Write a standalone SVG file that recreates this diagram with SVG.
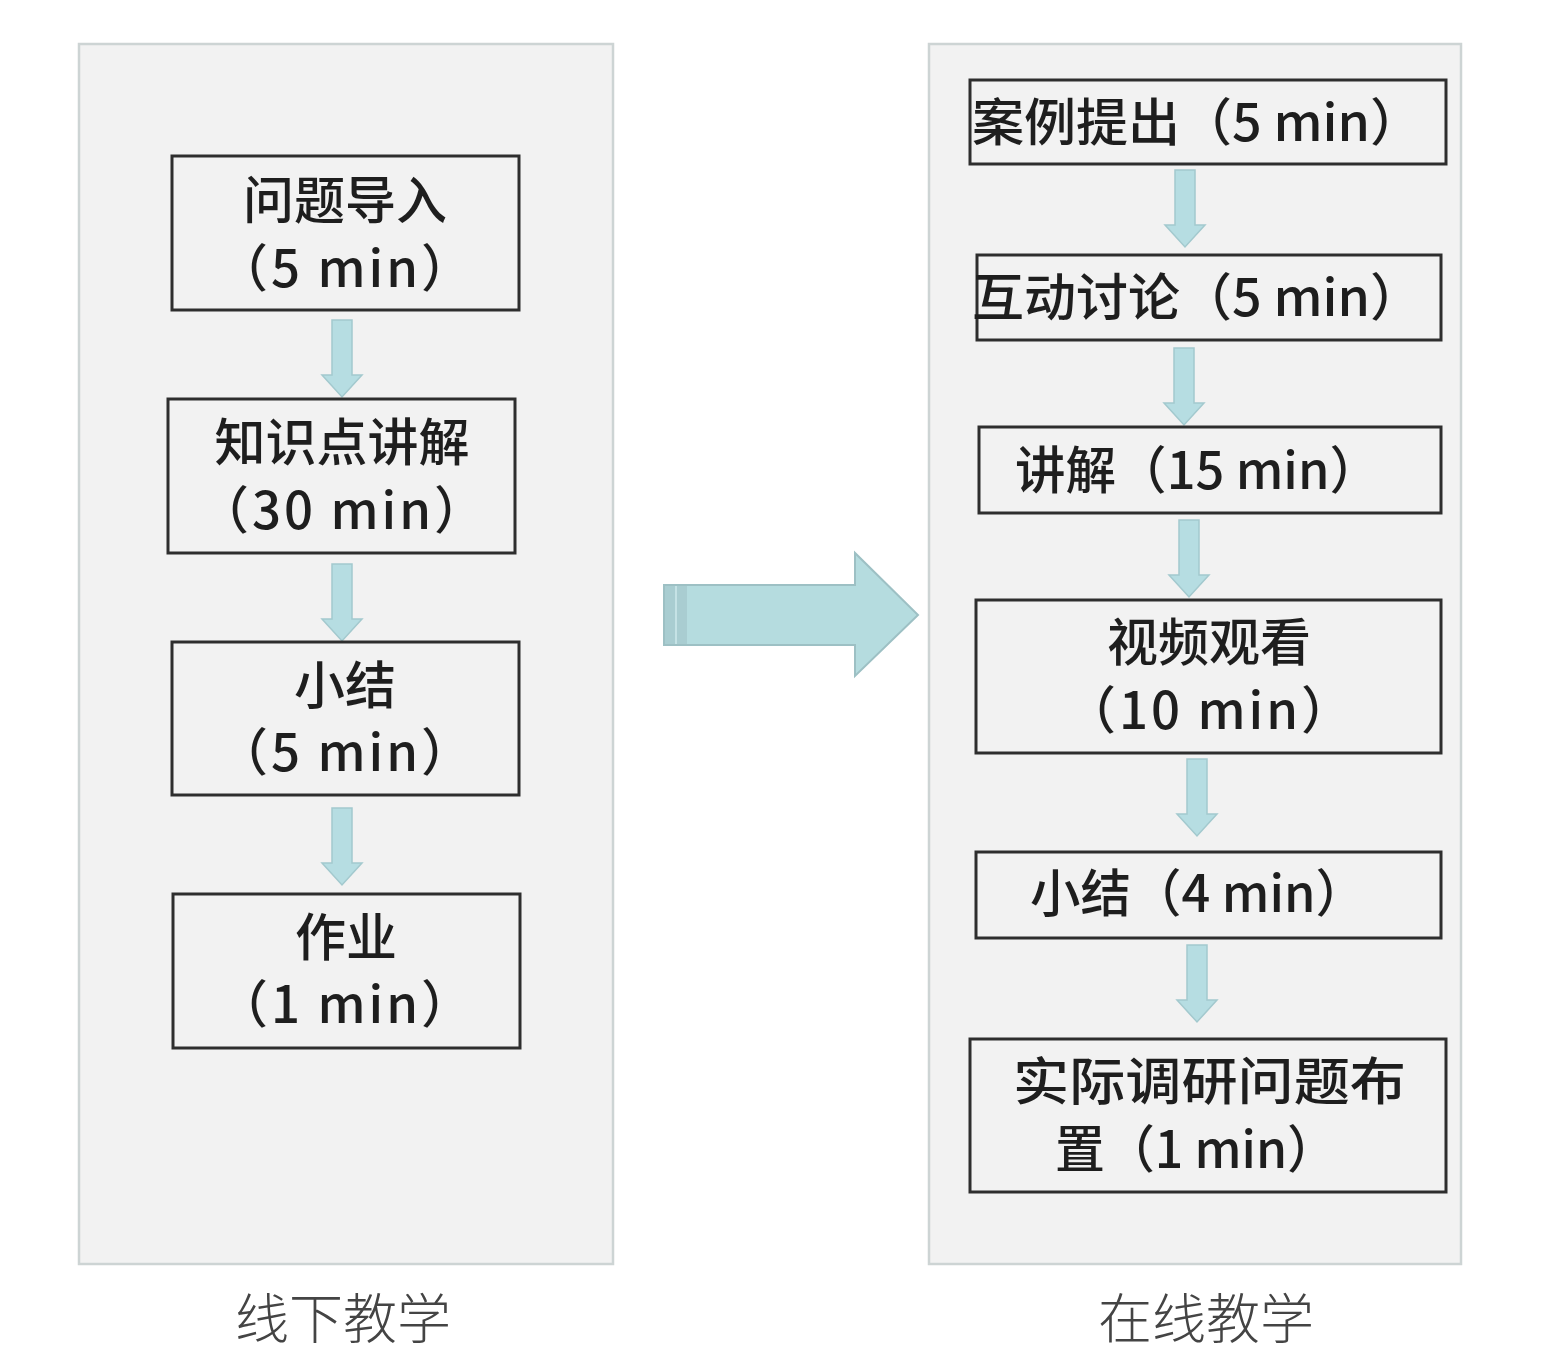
<svg xmlns="http://www.w3.org/2000/svg" width="1541" height="1353" viewBox="0 0 1541 1353">
<style>
.panel{fill:#f2f2f2;stroke:#cdd4d4;stroke-width:2.5}
.box{fill:#f2f2f2;stroke:#2e2e2e;stroke-width:3}
.t{font-family:"Noto Sans CJK SC","Noto Sans",sans-serif;font-size:51px;font-weight:500;fill:#1e1e1e}
.p{letter-spacing:3px}
.cap{font-family:"Noto Sans CJK SC","Noto Sans",sans-serif;font-size:54px;font-weight:300;fill:#444}
.arr{fill:#b6dde2;stroke:#a3c9ce;stroke-width:1.5}
.big{fill:#b5dcdf;stroke:#9dc0c4;stroke-width:2}
</style>
<defs>
<path id="dn" d="M-10,0 H10 V55 H20 L0,77 L-20,55 H-10 Z"/>
</defs>
<rect width="1541" height="1353" fill="#ffffff"/>
<g id="panel-left"><rect class="panel" x="79" y="44" width="534" height="1220"/></g>
<g id="panel-right"><rect class="panel" x="929" y="44" width="532" height="1220"/></g>

<g id="connectors">
<use href="#dn" class="arr" x="342" y="320"/>
<use href="#dn" class="arr" x="342" y="564"/>
<use href="#dn" class="arr" x="342" y="808"/>
<use href="#dn" class="arr" x="1185" y="170"/>
<use href="#dn" class="arr" x="1184" y="348"/>
<use href="#dn" class="arr" x="1189" y="520"/>
<use href="#dn" class="arr" x="1197" y="759"/>
<use href="#dn" class="arr" x="1197" y="945"/>
<g id="big-arrow">
<polygon class="big" points="664,585 855,585 855,553 918,615 855,676 855,645 664,645"/>
<rect x="665" y="586" width="22" height="58" fill="#a9cdd1"/>
<line x1="676" y1="586" x2="676" y2="644" stroke="#c5e2e5" stroke-width="2"/>
</g>
</g>

<g id="n1"><rect class="box" x="172" y="156" width="347" height="154"/>
<text class="t" x="345" y="219" text-anchor="middle">问题导入</text>
<text class="t p" x="346" y="287" text-anchor="middle">（5 min）</text></g>
<g id="n2"><rect class="box" x="168" y="399" width="347" height="154"/>
<text class="t" x="342" y="461" text-anchor="middle">知识点讲解</text>
<text class="t p" x="343" y="529" text-anchor="middle">（30 min）</text></g>
<g id="n3"><rect class="box" x="172" y="642" width="347" height="153"/>
<text class="t" x="345" y="704" text-anchor="middle">小结</text>
<text class="t p" x="346" y="771" text-anchor="middle">（5 min）</text></g>
<g id="n4"><rect class="box" x="173" y="894" width="347" height="154"/>
<text class="t" x="346" y="956" text-anchor="middle">作业</text>
<text class="t p" x="346" y="1023" text-anchor="middle">（1 min）</text></g>

<g id="m1"><rect class="box" x="970" y="80" width="476" height="84"/>
<text class="t" x="972" y="141" textLength="450" lengthAdjust="spacingAndGlyphs">案例提出（5 min）</text></g>
<g id="m2"><rect class="box" x="977" y="255" width="464" height="85"/>
<text class="t" x="972" y="316" textLength="450" lengthAdjust="spacingAndGlyphs">互动讨论（5 min）</text></g>
<g id="m3"><rect class="box" x="979" y="427" width="462" height="86"/>
<text class="t" x="1015" y="489" textLength="365" lengthAdjust="spacingAndGlyphs">讲解（15 min）</text></g>
<g id="m4"><rect class="box" x="976" y="600" width="465" height="153"/>
<text class="t" x="1209" y="661" text-anchor="middle">视频观看</text>
<text class="t p" x="1210" y="729" text-anchor="middle">（10 min）</text></g>
<g id="m5"><rect class="box" x="976" y="852" width="465" height="86"/>
<text class="t" x="1030" y="912" textLength="336" lengthAdjust="spacingAndGlyphs">小结（4 min）</text></g>
<g id="m6"><rect class="box" x="970" y="1039" width="476" height="153"/>
<text class="t" x="1013" y="1100" textLength="393" lengthAdjust="spacingAndGlyphs">实际调研问题布</text>
<text class="t" x="1055" y="1168" textLength="282" lengthAdjust="spacingAndGlyphs">置（1 min）</text></g>

<g id="cap-left"><text class="cap" x="343" y="1339" text-anchor="middle">线下教学</text></g>
<g id="cap-right"><text class="cap" x="1206" y="1339" text-anchor="middle">在线教学</text></g>
</svg>
